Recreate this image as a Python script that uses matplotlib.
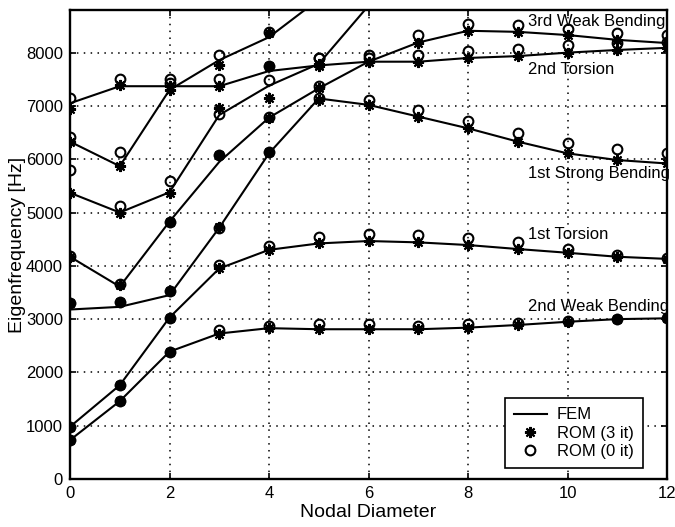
import numpy as np
import matplotlib
matplotlib.use("Agg")
import matplotlib.pyplot as plt

nan = np.nan
nodal_diameter = list(range(13))

# FEM curves (one per mode family)
fem_mode1 = [730, 1460, 2390, 2730, 2830, 2810, 2810, 2810, 2840, 2890, 2950, 3000, 3015]
fem_mode2 = [980, 1760, 3030, 3950, 4300, 4420, 4465, 4440, 4390, 4315, 4245, 4170, 4130]
fem_mode3 = [3180, 3230, 3450, 4715, 6110, 7140, 7020, 6800, 6580, 6330, 6110, 5985, 5920]
fem_mode4 = [4170, 3610, 4830, 5950, 6780, 7330, 7830, 8190, 8410, 8390, 8330, 8240, 8180]
fem_mode5 = [5370, 5000, 5380, 6830, 7380, 7790, 8880, nan, nan, nan, nan, nan, nan]
fem_mode6 = [6330, 5870, 7300, 7860, 8290, 9000, nan, nan, nan, nan, nan, nan, nan]
fem_mode7 = [7050, 7370, 7370, 7370, 7655, 7760, 7830, 7830, 7900, 7935, 8000, 8050, 8090]

# ROM (3 it)
rom3_mode1 = [730, 1460, 2390, 2730, 2830, 2810, 2810, 2810, 2840, 2890, 2950, 3000, 3015]
rom3_mode2 = [980, 1760, 3030, 3950, 4300, 4420, 4465, 4440, 4390, 4315, 4245, 4170, 4130]
rom3_mode3 = [3310, 3330, 3530, 4730, 6130, 7120, 7020, 6800, 6580, 6330, 6110, 5985, 5920]
rom3_mode4 = [4170, 3640, 4820, 6070, 6770, 7330, 7830, 8190, 8410, 8390, 8330, 8240, 8180]
rom3_mode5 = [5360, 4985, 5370, 6960, 7150, 7790, nan, nan, nan, nan, nan, nan, nan]
rom3_mode6 = [6330, 5870, 7300, 7770, 8360, nan, nan, nan, nan, nan, nan, nan, nan]
rom3_mode7 = [6950, 7390, 7380, 7380, 7740, 7740, 7830, 7830, 7900, 7935, 8000, 8050, 8090]

# ROM (0 it)
rom0_mode1 = [730, 1460, 2390, 2795, 2870, 2900, 2900, 2880, 2900, 2920, 2970, 3010, 3030]
rom0_mode2 = [980, 1760, 3030, 4015, 4370, 4545, 4590, 4580, 4530, 4440, 4310, 4200, 4150]
rom0_mode3 = [3310, 3330, 3530, 4715, 6130, 7150, 7120, 6930, 6720, 6500, 6310, 6190, 6120]
rom0_mode4 = [4190, 3650, 4830, 6080, 6790, 7370, 7950, 8330, 8540, 8520, 8440, 8370, 8330]
rom0_mode5 = [5800, 5130, 5590, 6850, 7490, 7900, nan, nan, nan, nan, nan, nan, nan]
rom0_mode6 = [6410, 6130, 7430, 7950, 8380, nan, nan, nan, nan, nan, nan, nan, nan]
rom0_mode7 = [7140, 7500, 7500, 7500, 7750, 7890, 7900, 7950, 8030, 8060, 8140, 8180, 8200]

mode_labels = ["3rd Weak Bending", "2nd Torsion", "1st Strong Bending", "1st Torsion", "2nd Weak Bending"]
label_x = [9.2, 9.2, 9.2, 9.2, 9.2]
label_y = [8580, 7690, 5740, 4580, 3230]

x_ticks = [0, 2, 4, 6, 8, 10, 12]
y_ticks = [0, 1000, 2000, 3000, 4000, 5000, 6000, 7000, 8000]

plt.rcParams['font.family'] = ['Liberation Sans', 'DejaVu Sans']

fig = plt.figure(figsize=(6.75, 5.27), dpi=100)
ax = fig.add_axes([70/675, (527-479)/527, 597/675, 469/527])

fems = [fem_mode1, fem_mode2, fem_mode3, fem_mode4, fem_mode5, fem_mode6, fem_mode7]
rom3s = [rom3_mode1, rom3_mode2, rom3_mode3, rom3_mode4, rom3_mode5, rom3_mode6, rom3_mode7]
rom0s = [rom0_mode1, rom0_mode2, rom0_mode3, rom0_mode4, rom0_mode5, rom0_mode6, rom0_mode7]

star = (8, 2, 0)
for i, (f, r3, r0) in enumerate(zip(fems, rom3s, rom0s)):
    ax.plot(nodal_diameter, f, '-', color='black', lw=1.5,
            label='FEM' if i == 0 else None, zorder=3)
    ax.plot(nodal_diameter, r3, linestyle='none', marker=star, ms=8, mew=1.5,
            color='black', label='ROM (3 it)' if i == 0 else None, zorder=4)
    ax.plot(nodal_diameter, r0, linestyle='none', marker='o', ms=7, mew=1.5,
            mfc='none', mec='black', label='ROM (0 it)' if i == 0 else None, zorder=4)

for t, lx, ly in zip(mode_labels, label_x, label_y):
    ax.text(lx, ly, t, fontsize=12, ha='left', va='center', color='black', zorder=5)

ax.set_xlim(0, 12)
ax.set_ylim(0, 8800)
ax.set_xticks(x_ticks)
ax.set_yticks(y_ticks)
ax.set_xticklabels([str(v) for v in x_ticks], fontsize=12)
ax.set_yticklabels([str(v) for v in y_ticks], fontsize=12)
ax.tick_params(direction='in', length=4, width=1.2, top=True, right=True, pad=5)
ax.grid(True, color='black', linestyle=(0, (1, 3.5)), linewidth=1.1)
for s in ax.spines.values():
    s.set_linewidth(1.7)

ax.set_xlabel('Nodal Diameter', fontsize=14, labelpad=2)
ax.set_ylabel('Eigenfrequency [Hz]', fontsize=14, labelpad=0)

leg = ax.legend(loc='lower right', bbox_to_anchor=(0.96, 0.023), borderaxespad=0,
                fontsize=12, frameon=True, fancybox=False, edgecolor='black',
                framealpha=1, handlelength=2.0, handletextpad=0.6,
                borderpad=0.55, labelspacing=0.2)
leg.get_frame().set_linewidth(1.2)

fig.savefig('out.png', dpi=100)
